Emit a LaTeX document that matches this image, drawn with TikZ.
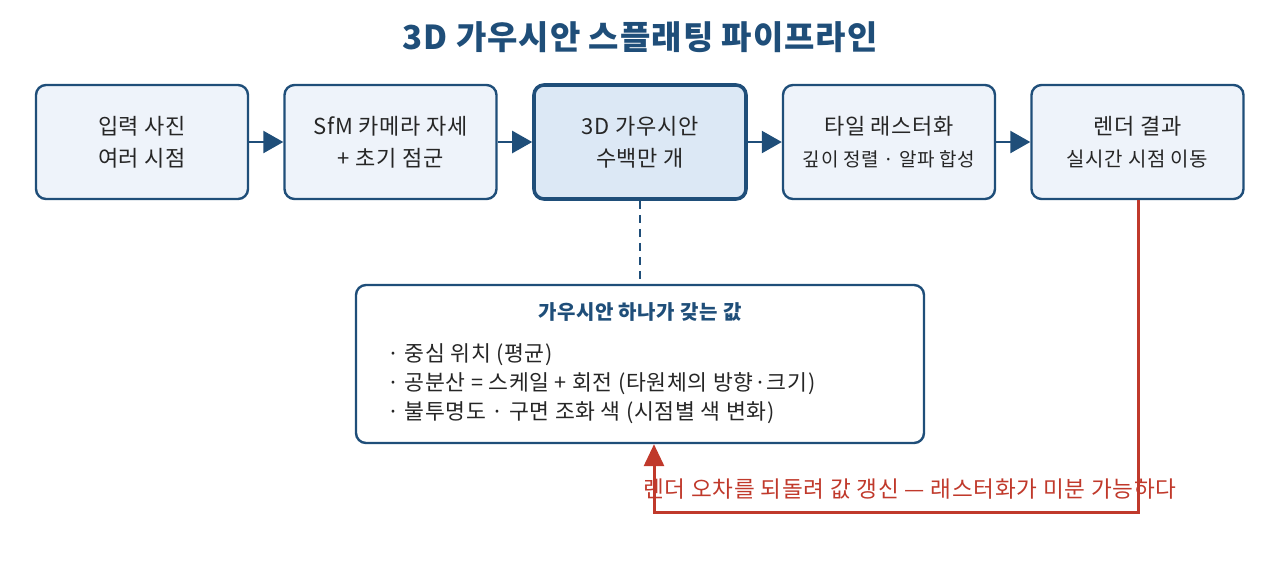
\documentclass[tikz,border=0pt]{standalone}
\usepackage{fontspec}
\setmainfont{Noto Sans CJK KR}[LetterSpace=3]
\usetikzlibrary{arrows.meta}
\definecolor{navy}{HTML}{1F4E79}
\definecolor{boxfill}{HTML}{EEF3FA}
\definecolor{hifill}{HTML}{DCE8F5}
\definecolor{redc}{HTML}{C0392B}
\begin{document}
\begin{tikzpicture}[x=0.5pt,y=-0.5pt,
  box/.style={draw=navy,line width=1.2pt,fill=boxfill,rounded corners=5pt,minimum width=106pt,minimum height=57pt,align=center,font=\fontsize{11pt}{16pt}\selectfont,text=black!85},
  hibox/.style={box,fill=hifill,line width=1.8pt},
  arr/.style={draw=navy,line width=1.2pt,-{Triangle[length=10pt,width=11pt]}},
  fb/.style={draw=redc,line width=1.5pt}]
\useasboundingbox (0,0) rectangle (1280,569);
\node[font=\bfseries\fontsize{16.5pt}{18pt}\selectfont,text=navy] (title) at (640,37) {3D 가우시안 스플래팅 파이프라인};
\node[box] (b1) at (142,142) {입력 사진\\여러 시점};
\node[box] (b2) at (390.5,142) {SfM 카메라 자세\\+ 초기 점군};
\node[hibox] (b3) at (640,142) {3D 가우시안\\수백만 개};
\node[box] (b4) at (889,142) {타일 래스터화\\{\fontsize{9.5pt}{13pt}\selectfont 깊이 정렬 · 알파 합성}};
\node[box] (b5) at (1137.5,142) {렌더 결과\\{\fontsize{10pt}{14pt}\selectfont 실시간 시점 이동}};
\draw[arr] (b1) -- (b2);
\draw[arr] (b2) -- (b3);
\draw[arr] (b3) -- (b4);
\draw[arr] (b4) -- (b5);
\node[draw=navy,line width=1.2pt,fill=white,rounded corners=5pt,minimum width=284pt,minimum height=79pt] (info) at (640,364) {};
\node[font=\bfseries\fontsize{10pt}{11pt}\selectfont,text=navy] (it) at (640,312) {가우시안 하나가 갖는 값};
\node[anchor=west,align=left,font=\fontsize{10.8pt}{14.5pt}\selectfont,text=black!85] (items) at (380,384) {· 중심 위치 (평균)\\· 공분산 = 스케일 + 회전 (타원체의 방향·크기)\\· 불투명도 · 구면 조화 색 (시점별 색 변화)};
\draw[navy,line width=1.3pt,dash pattern=on 4pt off 3pt] (b3.south) -- (info.north);
\coordinate (c1) at (1138,512);
\coordinate (c2) at (654,512);
\draw[fb,-{Triangle[length=11pt,width=10pt]}] (b5.south -| c1) -- (c1) -- (c2) -- (c2 |- info.south);
\node[text=redc,font=\fontsize{11.3pt}{12pt}\selectfont] (fl) at (910,489) {렌더 오차를 되돌려 값 갱신 — 래스터화가 미분 가능하다};
\end{tikzpicture}
\end{document}
